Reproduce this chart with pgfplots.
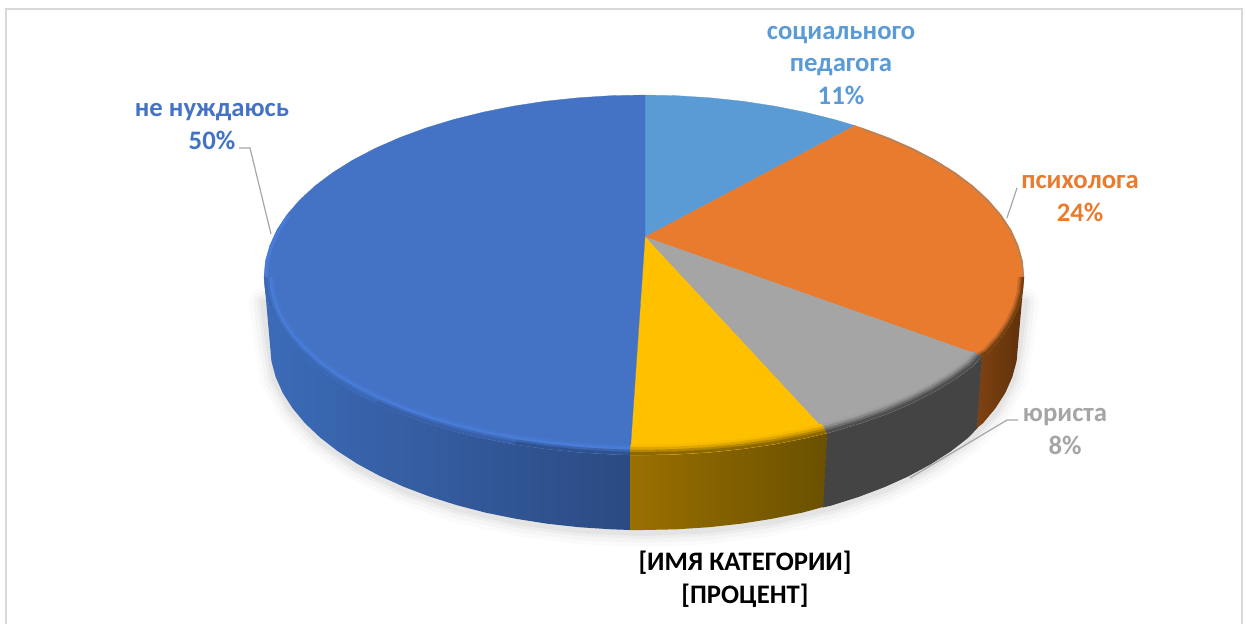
\documentclass[border=0pt]{standalone}
\usepackage{fontspec}
\setmainfont{Carlito}
\usepackage{pgfplots}
\usepackage{pgfplotstable}
\pgfplotsset{compat=1.18}

\definecolor{cblue}{HTML}{4472C4}
\definecolor{csoc}{HTML}{5B9BD5}
\definecolor{corange}{HTML}{E87B2E}
\definecolor{cgrey}{HTML}{A5A5A5}
\definecolor{cyellow}{HTML}{FFC000}
\definecolor{cline}{HTML}{A6A6A6}
\definecolor{cframe}{HTML}{D9D9D9}
\newcommand{\lbl}{\bfseries\fontsize{26.7}{32.5}\selectfont}

% rim of the top face, lower half, one table per slice
\pgfplotstableread{
x y
982 356
973.1 366
955.3 379.1
935.1 391.4
912.7 402.9
888.3 413.4
862 422.8
834 431.2
827 433
}\rimgrey
\pgfplotstableread{
x y
827 433
804.6 438.3
774 444.3
742.4 448.9
710 452.3
677.1 454.3
644 455
630 455
}\rimyellow
\pgfplotstableread{
x y
630 455
610.9 454.3
578 452.3
545.6 448.9
514 444.3
483.4 438.3
454 431.2
426 422.8
399.7 413.4
375.3 402.9
352.9 391.4
332.7 379.1
314.9 366
299.6 352.2
286.9 337.9
276.9 323.1
269.8 307.9
265.4 292.5
264 277
}\rimblue
% the same rim cut in three, the wall gets lighter to the left
\pgfplotstableread{
x y
630 455
610.9 454.3
578 452.3
545.6 448.9
514 444.3
}\rimblueA
\pgfplotstableread{
x y
514 444.3
483.4 438.3
454 431.2
426 422.8
399.7 413.4
375.3 402.9
}\rimblueB
\pgfplotstableread{
x y
375.3 402.9
352.9 391.4
332.7 379.1
314.9 366
299.6 352.2
286.9 337.9
276.9 323.1
269.8 307.9
265.4 292.5
264 277
}\rimblueC
\pgfplotstableread{
x y
264 277
265.4 261.1
269.8 245.4
276.9 229.9
286.9 214.8
}\rimblueup
\pgfplotstableread{
x y
1024 277
1022.6 292.5
1018.2 307.9
1011.1 323.1
1001.1 337.9
988.4 352.2
982 356
}\rimorange
\pgfplotstableread{
x y
862 127.9
888.3 137.6
912.7 148.3
935.1 160
955.3 172.6
973.1 186
988.4 200.1
1001.1 214.8
1011.1 229.9
1018.2 245.4
1022.6 261.1
1024 277
}\rimorangeup
% lower edge of the wall, used for the soft shadow
\pgfplotstableread{
x y
1024 300
1018 345
1012.3 377.1
995.4 408.3
967.9 437.5
930.5 463.9
884.4 486.7
831 505.2
771.9 518.8
708.9 527.2
644 530
579.1 527.2
516.1 518.8
457 505.2
403.6 486.7
357.5 463.9
320.1 437.5
292.6 408.3
275.7 377.1
270 345
264 300
}\wallbottom

\newcommand{\bevel}[4]{%
  \addplot[draw=#3,line width=#4,line join=round]
    table[x expr={644+(\thisrow{x}-644)*(1-#2/380)},y expr={277+(\thisrow{y}-277)*(1-#2/178)}] {#1};}
\newcommand{\shadow}[2]{%
  \addplot[draw=black,opacity=#2,line width=#1,line join=round,line cap=round]
    table[x=x,y expr={\thisrow{y}+2}] {\wallbottom};}

% wall and bevel shades
\definecolor{wbl}{HTML}{3C6BB8}\definecolor{wbr}{HTML}{2B4A82}
\definecolor{wyl}{HTML}{9A7000}\definecolor{wyr}{HTML}{6A5000}
\definecolor{wg}{HTML}{444444}
\definecolor{wol}{HTML}{7E4212}\definecolor{wor}{HTML}{5E300A}
\definecolor{ba}{HTML}{4473C6}\definecolor{bb}{HTML}{4576CC}\definecolor{bc}{HTML}{487CD8}
\definecolor{bd1}{HTML}{3A64AE}\definecolor{bd2}{HTML}{3F6CBC}\definecolor{bd3}{HTML}{4070C0}
\definecolor{be1}{HTML}{2F5290}\definecolor{be2}{HTML}{385FA8}\definecolor{be3}{HTML}{3B68B4}
\definecolor{ya}{HTML}{F8BA00}\definecolor{yb}{HTML}{DDA500}\definecolor{yc}{HTML}{B58600}\definecolor{yd}{HTML}{8E6800}
\definecolor{ga}{HTML}{A0A0A0}\definecolor{gb}{HTML}{8A8A8A}\definecolor{gc}{HTML}{6C6C6C}\definecolor{gd}{HTML}{505050}
\definecolor{oa}{HTML}{C86A28}\definecolor{ob}{HTML}{9C5520}\definecolor{oc}{HTML}{73400F}\definecolor{od}{HTML}{A88468}

\begin{document}
\begin{tikzpicture}
\begin{axis}[
    scale only axis,
    width=1246pt,
    height=624pt,
    xmin=0, xmax=1246,
    ymin=0, ymax=624,
    y dir=reverse,
    hide axis,
    clip=false,
]
% frame, open at the bottom
\addplot[draw=cframe,line width=2pt] coordinates {(6,624) (6,9) (1242,9) (1242,624)};

% soft shadow
\shadow{30pt}{0.016}
\shadow{22pt}{0.022}
\shadow{14pt}{0.03}
\shadow{8pt}{0.04}

% walls
\addplot[fill=wg,draw=wg,line width=0.8pt] coordinates {
(827,433) (834,431.2) (862,422.8) (888.3,413.4) (912.7,402.9) (935.1,391.4) (955.3,379.1) (973.1,366) (982,356)
(977,428) (967.9,437.5) (950.4,451.1) (930.5,463.9) (908.5,475.8) (884.4,486.7) (858.5,496.5) (831,505.2) (823,507)
} -- cycle;
\addplot[left color=wbl,right color=wbr,draw=none] coordinates {
(264,277) (265.4,292.5) (269.8,307.9) (276.9,323.1) (286.9,337.9) (299.6,352.2) (314.9,366) (332.7,379.1)
(352.9,391.4) (375.3,402.9) (399.7,413.4) (426,422.8) (454,431.2) (483.4,438.3) (514,444.3) (545.6,448.9)
(578,452.3) (610.9,454.3) (631,455) (631,530) (611.4,529.3) (579.1,527.2) (547.2,523.7) (516.1,518.8)
(485.9,512.7) (457,505.2) (429.5,496.5) (403.6,486.7) (379.5,475.8) (357.5,463.9) (337.6,451.1) (320.1,437.5)
(305,423.2) (292.6,408.3) (282.7,392.9) (275.7,377.1) (271.4,361.1) (270,345)
} -- cycle;
\addplot[left color=wyl,right color=wyr,draw=none] coordinates {
(630,455) (644,455) (677.1,454.3) (710,452.3) (742.4,448.9) (774,444.3) (804.6,438.3) (827,433)
(823,507) (802.1,512.7) (771.9,518.8) (740.8,523.7) (708.9,527.2) (676.6,529.3) (644,530) (630,530)
} -- cycle;
\addplot[left color=wol,right color=wor,draw=none] coordinates {
(982,356) (988.4,352.2) (1001.1,337.9) (1011.1,323.1) (1018.2,307.9) (1022.6,292.5) (1024,277)
(1018,345) (1016.6,361.1) (1012.3,377.1) (1005.3,392.9) (995.4,408.3) (983,423.2) (977,428)
} -- cycle;

% top face
\addplot[fill=csoc,draw=csoc,line width=0.3pt] coordinates {
(645,237) (645,95) (677.1,95.7) (710,97.8) (742.4,101.2) (774,106) (804.6,112.1) (834,119.4) (855,125.6)
} -- cycle;
\addplot[fill=corange,draw=corange,line width=0.3pt] coordinates {
(645,237) (855,125.6) (862,127.9) (888.3,137.6) (912.7,148.3) (935.1,160) (955.3,172.6) (973.1,186) (988.4,200.1)
(1001.1,214.8) (1011.1,229.9) (1018.2,245.4) (1022.6,261.1) (1024,277) (1022.6,292.5) (1018.2,307.9) (1011.1,323.1)
(1001.1,337.9) (988.4,352.2) (982,356)
} -- cycle;
\addplot[fill=cgrey,draw=cgrey,line width=0.3pt] coordinates {
(645,237) (982,356) (973.1,366) (955.3,379.1) (935.1,391.4) (912.7,402.9) (888.3,413.4) (862,422.8) (834,431.2) (827,433)
} -- cycle;
\addplot[fill=cyellow,draw=cyellow,line width=0.3pt] coordinates {
(645,237) (827,433) (804.6,438.3) (774,444.3) (742.4,448.9) (710,452.3) (677.1,454.3) (644,455) (630,455)
} -- cycle;
\addplot[fill=cblue,draw=cblue,line width=0.3pt] coordinates {
(645,237) (630,455) (610.9,454.3) (578,452.3) (545.6,448.9) (514,444.3) (483.4,438.3) (454,431.2) (426,422.8)
(399.7,413.4) (375.3,402.9) (352.9,391.4) (332.7,379.1) (314.9,366) (299.6,352.2) (286.9,337.9) (276.9,323.1)
(269.8,307.9) (265.4,292.5) (264,277) (265.4,261.1) (269.8,245.4) (276.9,229.9) (286.9,214.8) (299.6,200.1)
(314.9,186) (332.7,172.6) (352.9,160) (375.3,148.3) (399.7,137.6) (426,127.9) (454,119.4) (483.4,112.1)
(514,106) (545.6,101.2) (578,97.8) (610.9,95.7) (645,95)
} -- cycle;

% bevel along the rim
\bevel{\rimblue}{11}{ba}{2.6pt}
\bevel{\rimblue}{9}{bb}{2.6pt}
\bevel{\rimblue}{6.5}{bc}{3pt}
\bevel{\rimblueA}{4}{bd1}{2.6pt}
\bevel{\rimblueB}{4}{bd2}{2.6pt}
\bevel{\rimblueC}{4}{bd3}{2.6pt}
\bevel{\rimblueA}{1.5}{be1}{3pt}
\bevel{\rimblueB}{1.5}{be2}{3pt}
\bevel{\rimblueC}{1.5}{be3}{3pt}
\bevel{\rimblueup}{2}{bc}{3pt}
\bevel{\rimyellow}{9}{ya}{2.6pt}
\bevel{\rimyellow}{6.5}{yb}{2.6pt}
\bevel{\rimyellow}{4}{yc}{2.6pt}
\bevel{\rimyellow}{1.5}{yd}{3pt}
\bevel{\rimgrey}{9}{ga}{2.6pt}
\bevel{\rimgrey}{6.5}{gb}{2.6pt}
\bevel{\rimgrey}{4}{gc}{2.6pt}
\bevel{\rimgrey}{1.5}{gd}{3pt}
\bevel{\rimorange}{5}{oa}{2pt}
\bevel{\rimorange}{3}{ob}{2pt}
\bevel{\rimorange}{1}{oc}{2.4pt}
\bevel{\rimorangeup}{0.8}{od}{1.2pt}

% leader lines
\addplot[draw=cline,line width=1.2pt] coordinates {(239,148) (250,148) (271,234)};
\addplot[draw=cline,line width=1.2pt] coordinates {(1017,188) (1007,218)};
\addplot[draw=cline,line width=1.2pt] coordinates {(1018,420) (1007,420) (910,478)};

% labels
\node[text=csoc,align=center,font=\lbl] at (axis cs:841,65.5) {социального\\педагога\\11\%};
\node[text=cblue,align=center,font=\lbl] at (axis cs:212,126.5) {не нуждаюсь\\50\%};
\node[text=corange,align=center,font=\lbl] at (axis cs:1080,198.5) {психолога\\24\%};
\node[text=cgrey,align=center,font=\lbl] at (axis cs:1065,431.5) {юриста\\8\%};
\node[text=black,align=center,font=\lbl] at (axis cs:745,579.5) {[ИМЯ КАТЕГОРИИ]\\{}[ПРОЦЕНТ]};

\path (axis cs:0,0) rectangle (axis cs:1246,624);
\end{axis}
\end{tikzpicture}
\end{document}
